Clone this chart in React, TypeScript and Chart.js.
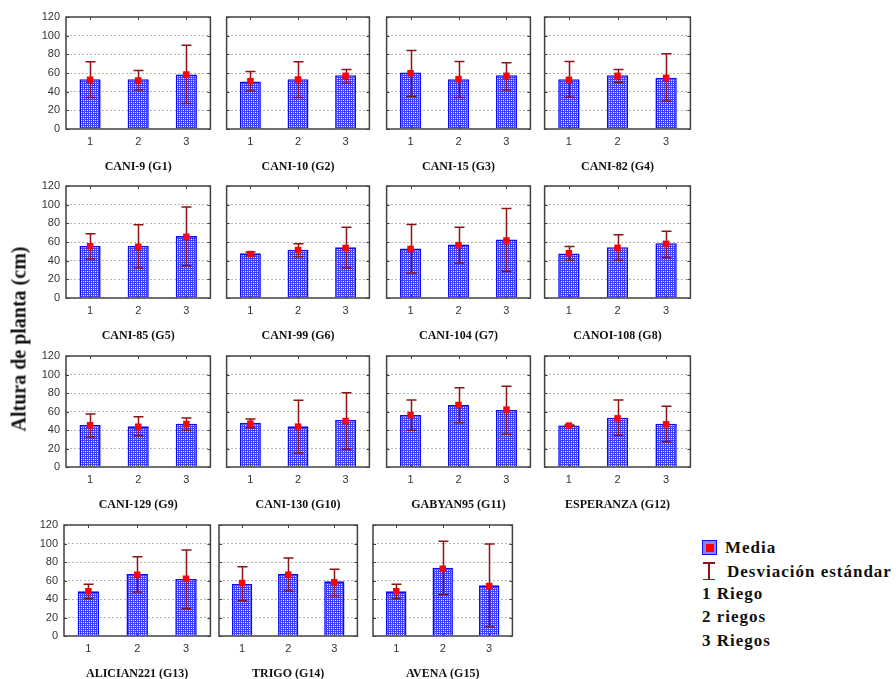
import React, { useEffect, useRef } from 'react';
import { Chart, registerables } from 'chart.js';
Chart.register(...registerables);

// ---------- data ----------
const CATEGORIES = ['1', '2', '3'];
const Y_MIN = 0;
const Y_MAX = 120;
const Y_STEP = 20;

const PANEL_TITLES = [
  'CANI-9 (G1)', 'CANI-10 (G2)', 'CANI-15 (G3)', 'CANI-82 (G4)',
  'CANI-85 (G5)', 'CANI-99 (G6)', 'CANI-104 (G7)', 'CANOI-108 (G8)',
  'CANI-129 (G9)', 'CANI-130 (G10)', 'GABYAN95 (G11)', 'ESPERANZA (G12)',
  'ALICIAN221 (G13)', 'TRIGO (G14)', 'AVENA (G15)',
];

// bar height (media)
const BAR_MEAN = [
  [53.4, 53.4, 58.4], [50.9, 53.4, 57.7], [60.5, 53.4, 57.7], [53.4, 57.7, 54.8],
  [55.7, 55.7, 66.4], [47.9, 51.8, 54.3], [53.0, 57.3, 62.7], [47.6, 54.4, 58.7],
  [45.4, 44.0, 46.8], [47.9, 44.0, 50.8], [56.2, 67.0, 61.6], [45.0, 53.3, 46.8],
  [48.3, 67.0, 61.6], [56.2, 67.0, 59.1], [48.3, 73.9, 54.8],
];
// red mean markers
const POINT_MEAN = [
  [52.7, 52.0, 58.4], [51.2, 53.0, 57.0], [59.8, 53.4, 57.0], [52.7, 57.0, 54.8],
  [55.4, 55.0, 65.7], [47.1, 51.4, 53.6], [52.6, 56.6, 61.6], [48.0, 53.7, 58.0],
  [45.0, 43.6, 46.5], [46.8, 43.6, 49.7], [56.2, 67.0, 62.0], [44.7, 52.6, 46.1],
  [48.3, 66.3, 62.0], [57.3, 66.3, 58.0], [48.3, 72.8, 54.0],
];
// standard deviation whiskers (low / high)
const SD_LOW = [
  [33.7, 41.9, 27.2], [40.8, 33.7, 49.1], [35.1, 33.7, 41.9], [34.0, 50.1, 30.1],
  [41.8, 32.1, 34.6], [45.4, 44.3, 32.1], [26.9, 37.6, 28.3], [40.5, 40.5, 43.3],
  [32.4, 33.9, 39.6], [42.5, 15.1, 19.1], [39.6, 47.9, 35.3], [44.0, 34.2, 27.4],
  [40.4, 47.6, 29.5], [38.2, 48.6, 43.6], [40.4, 44.7, 9.7],
];
const SD_HIGH = [
  [72.0, 62.7, 89.6], [61.6, 72.0, 63.8], [84.2, 72.4, 70.9], [72.4, 63.8, 80.6],
  [68.9, 78.6, 97.5], [49.3, 58.2, 75.7], [78.8, 75.9, 96.0], [55.2, 67.7, 71.6],
  [57.3, 54.4, 53.0], [51.9, 72.1, 80.4], [72.4, 85.8, 87.2], [45.5, 72.4, 65.6],
  [55.9, 85.8, 93.0], [75.0, 84.3, 72.1], [55.9, 102.3, 99.5],
];

const Y_TITLE = 'Altura de planta (cm)';
const LEGEND_LABELS = ['Media', 'Desviación estándar', '1 Riego', '2 riegos', '3 Riegos'];

// ---------- layout ----------
const ROWS = [
  { top: 17, bottom: 129, cols: [[66, 211], [226, 370], [386, 531], [544, 691]] },
  { top: 186, bottom: 298, cols: [[66, 211], [226, 370], [386, 531], [544, 691]] },
  { top: 356, bottom: 467, cols: [[66, 211], [226, 370], [386, 531], [544, 691]] },
  { top: 525, bottom: 636, cols: [[64, 211], [219, 358], [373, 513]] },
];

const SERIF = "'Liberation Serif', 'Times New Roman', serif";
const SANS = "'Liberation Sans', Arial, sans-serif";
const FRAME = '#404040';
const ERR = '#8b1414';

function makePattern(ctx: CanvasRenderingContext2D) {
  const c = document.createElement('canvas');
  c.width = 4;
  c.height = 4;
  const g = c.getContext('2d')!;
  g.fillStyle = '#3e3eff';
  g.fillRect(0, 0, 4, 4);
  g.fillStyle = '#ffffff';
  g.fillRect(1, 1, 1, 1);
  g.fillRect(3, 3, 1, 1);
  g.fillStyle = '#d4d4ff';
  g.fillRect(3, 1, 1, 1);
  g.fillRect(1, 3, 1, 1);
  return ctx.createPattern(c, 'repeat');
}

const YW_FIRST = 46;
const YW_OTHER = 4;
const PAD_T = 14;
const PAD_R = 4;
const XH = 45;

function Panel({ idx, left, top, right, bottom, showY }: { idx: number; left: number; top: number; right: number; bottom: number; showY: boolean }) {
  const ref = useRef<HTMLCanvasElement>(null);
  const base = showY ? YW_FIRST : YW_OTHER;
  const yw = base + ((left - base) % 2 === 0 ? 0 : 1);
  const w = yw + (right - left) + PAD_R;
  const h = PAD_T + (bottom - top) + XH;

  useEffect(() => {
    const canvas = ref.current!;
    const ctx = canvas.getContext('2d')!;
    const pattern = makePattern(ctx);
    const low = SD_LOW[idx];
    const high = SD_HIGH[idx];

    const errPlugin = {
      id: 'errbars',
      afterDatasetDraw(chart: any, args: any) {
        if (args.index !== 1) return;
        const { ctx: c, scales } = chart;
        const xs = scales.x;
        const ys = scales.y;
        c.save();
        c.strokeStyle = ERR;
        c.lineWidth = 1.5;
        for (let i = 0; i < CATEGORIES.length; i++) {
          const x = Math.round(xs.getPixelForValue(i)) + 0.5;
          const y1 = ys.getPixelForValue(low[i]);
          const y2 = ys.getPixelForValue(high[i]);
          c.beginPath();
          c.moveTo(x, y1);
          c.lineTo(x, y2);
          c.moveTo(x - 5, y1);
          c.lineTo(x + 5, y1);
          c.moveTo(x - 5, y2);
          c.lineTo(x + 5, y2);
          c.stroke();
        }
        c.restore();
      },
    };

    const framePlugin = {
      id: 'frame',
      afterDraw(chart: any) {
        const { ctx: c, chartArea: a, scales } = chart;
        c.save();
        c.strokeStyle = FRAME;
        c.lineWidth = 1.5;
        c.strokeRect(a.left, a.top, a.right - a.left, a.bottom - a.top);
        c.lineWidth = 1;
        c.beginPath();
        for (let v = Y_MIN; v <= Y_MAX; v += Y_STEP) {
          const y = Math.round(scales.y.getPixelForValue(v)) + 0.5;
          c.moveTo(a.left, y);
          c.lineTo(a.left + 3, y);
          c.moveTo(a.right, y);
          c.lineTo(a.right - 3, y);
        }
        for (let i = 0; i < CATEGORIES.length; i++) {
          const x = Math.round(scales.x.getPixelForValue(i)) + 0.5;
          c.moveTo(x, a.top);
          c.lineTo(x, a.top + 3);
          c.moveTo(x, a.bottom);
          c.lineTo(x, a.bottom - 3);
        }
        c.stroke();
        c.restore();
      },
    };

    const chart = new Chart(canvas, {
      type: 'bar',
      data: {
        labels: CATEGORIES,
        datasets: [
          {
            type: 'line',
            data: POINT_MEAN[idx],
            showLine: false,
            pointStyle: 'rect',
            pointRadius: 4.6,
            pointBackgroundColor: '#ff0000',
            pointBorderColor: '#ff0000',
            pointBorderWidth: 0,
            order: 0,
          } as any,
          {
            type: 'bar',
            data: BAR_MEAN[idx],
            backgroundColor: pattern as any,
            borderColor: '#0a0aff',
            borderWidth: 1.6,
            barPercentage: 0.44,
            categoryPercentage: 1,
            order: 1,
          },
        ],
      },
      options: {
        animation: false,
        responsive: false,
        devicePixelRatio: 1,
        events: [],
        layout: { padding: { top: PAD_T, right: PAD_R, left: 0, bottom: 0 } },
        plugins: { legend: { display: false }, tooltip: { enabled: false } },
        scales: {
          x: {
            offset: true,
            grid: { display: false, drawTicks: false },
            border: { display: false },
            ticks: { padding: 6, color: '#333', font: { family: SANS, size: 11 } },
            title: {
              display: true,
              text: PANEL_TITLES[idx],
              color: '#111',
              font: { family: SERIF, size: 12, weight: 'bold' },
              padding: { top: 0, bottom: 0 },
            },
            afterFit: (s: any) => {
              s.height = XH;
            },
          },
          y: {
            min: Y_MIN,
            max: Y_MAX,
            grid: {
              drawTicks: false,
              lineWidth: 1,
              color: (c: any) => (c.tick && (c.tick.value === Y_MIN || c.tick.value === Y_MAX) ? 'rgba(0,0,0,0)' : '#b5b5b5'),
            },
            border: { display: false, dash: [2, 2] },
            ticks: {
              display: showY,
              stepSize: Y_STEP,
              padding: 6,
              color: '#333',
              font: { family: SANS, size: 11 },
            },
            afterFit: (s: any) => {
              s.width = yw;
            },
          },
        },
      } as any,
      plugins: [errPlugin, framePlugin],
    });
    return () => chart.destroy();
  }, [idx, showY, yw]);

  return (
    <canvas
      ref={ref}
      width={w}
      height={h}
      style={{ position: 'absolute', left: left - yw, top: top - PAD_T, width: w, height: h }}
    />
  );
}

export default function App() {
  const panels: React.ReactNode[] = [];
  let idx = 0;
  ROWS.forEach((row) => {
    row.cols.forEach(([l, rt], c) => {
      panels.push(
        <Panel key={idx} idx={idx} left={l} right={rt} top={row.top} bottom={row.bottom} showY={c === 0} />
      );
      idx++;
    });
  });

  const legendFont: React.CSSProperties = {
    position: 'absolute',
    fontFamily: SERIF,
    fontWeight: 'bold',
    fontSize: 17,
    lineHeight: '20px',
    color: '#111',
    whiteSpace: 'nowrap',
    letterSpacing: 1,
  };

  return (
    <div style={{ position: 'absolute', left: 0, top: 0, width: 896, height: 679, background: '#fff', overflow: 'hidden' }}>
      {panels}
      <div
        style={{
          position: 'absolute',
          left: 19,
          top: 339,
          transform: 'translate(-50%, -50%) rotate(-90deg)',
          fontFamily: SERIF,
          fontWeight: 'bold',
          fontSize: 20,
          color: '#111',
          whiteSpace: 'nowrap',
        }}
      >
        {Y_TITLE}
      </div>
      {/* legend */}
      <div
        style={{
          position: 'absolute',
          left: 702,
          top: 540,
          width: 13,
          height: 13,
          border: '1.5px solid #1010ff',
          background: '#8585ff',
        }}
      >
        <div style={{ position: 'absolute', left: 2.5, top: 2.5, width: 8, height: 8, background: '#ff0000' }} />
      </div>
      <div style={{ ...legendFont, left: 725, top: 538 }}>{LEGEND_LABELS[0]}</div>
      <div style={{ position: 'absolute', left: 703, top: 562, width: 12, height: 18 }}>
        <div style={{ position: 'absolute', left: 0, top: 0, width: 12, height: 1.5, background: ERR }} />
        <div style={{ position: 'absolute', left: 5.25, top: 0, width: 1.5, height: 18, background: ERR }} />
        <div style={{ position: 'absolute', left: 0, top: 16.5, width: 12, height: 1.5, background: ERR }} />
      </div>
      <div style={{ ...legendFont, left: 727, top: 562 }}>{LEGEND_LABELS[1]}</div>
      <div style={{ ...legendFont, left: 702, top: 584 }}>{LEGEND_LABELS[2]}</div>
      <div style={{ ...legendFont, left: 702, top: 607 }}>{LEGEND_LABELS[3]}</div>
      <div style={{ ...legendFont, left: 702, top: 631 }}>{LEGEND_LABELS[4]}</div>
    </div>
  );
}
